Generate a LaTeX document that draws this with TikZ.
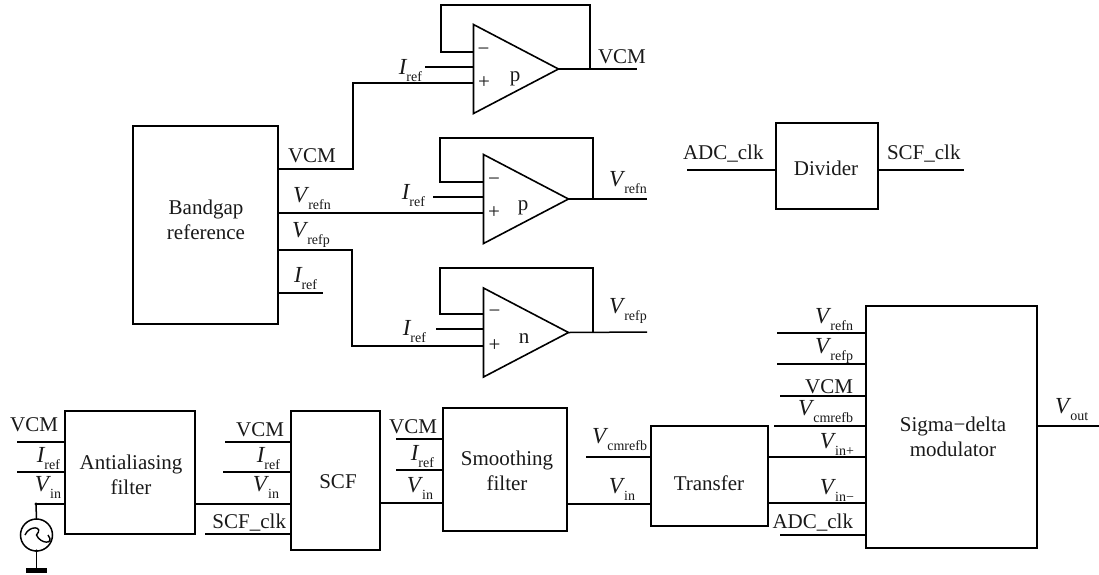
\documentclass[tikz,border=0pt]{standalone}
\usepackage{fontspec}
\setmainfont{Liberation Serif}
\usetikzlibrary{shapes.geometric}
\newcommand\lab[2]{{\fontsize{23}{25}\selectfont\textit{#1}}\kern-1pt\raisebox{-7.5pt}{\fontsize{14}{14}\selectfont #2}}
\tikzset{
  wire/.style={line width=1.5pt,line join=miter},
  blk/.style={draw,line width=1.6pt,rectangle,inner sep=0,outer sep=0},
  tl/.style={inner sep=0,outer sep=0,font=\fontsize{21}{25}\selectfont,text=black!90},
  bl/.style={tl,anchor=base west},
  br/.style={tl,anchor=base east},
  bc/.style={tl,anchor=base},
  opamp/.style={draw,line width=1.6pt,isosceles triangle,isosceles triangle stretches,shape border rotate=0,
     minimum width=89pt,minimum height=85pt,inner sep=0,outer sep=0,anchor=apex},
}
\begin{document}
\begin{tikzpicture}[x=1pt,y=-1pt]
\useasboundingbox (0,0) rectangle (1099,574);
% blocks
\node[blk,minimum width=145pt,minimum height=198pt] (bg) at (205.5,225) {};
\node[blk,minimum width=102pt,minimum height=86pt] (div) at (827,166) {};
\node[blk,minimum width=130pt,minimum height=123pt] (aa) at (130,472.5) {};
\node[blk,minimum width=89pt,minimum height=139pt] (scf) at (335.5,480.5) {};
\node[blk,minimum width=124pt,minimum height=123pt] (sm) at (505,469.5) {};
\node[blk,minimum width=117pt,minimum height=100pt] (tr) at (709.5,476) {};
\node[blk,minimum width=171pt,minimum height=242pt] (sd) at (951.5,427) {};
% op amps
\node[opamp] (a1) at (558.5,69) {};
\node[opamp] (a2) at (568.5,199) {};
\node[opamp] (a3) at (568.5,332.5) {};
% free ends
\coordinate (a1i) at (425,67);
\coordinate (a1o) at (637,69);
\coordinate (a2i) at (433,197);
\coordinate (a2o) at (647,199);
\coordinate (a3i) at (436,329);
\coordinate (a3o) at (647,332);
\coordinate (bgi) at (323,293);
\coordinate (divl) at (687,170);
\coordinate (divr) at (964,170);
\coordinate (aa1) at (17,442);
\coordinate (aa2) at (17,472);
\coordinate (aa3) at (36,504);
\coordinate (sc1) at (225,442);
\coordinate (sc2) at (223,472);
\coordinate (sc4) at (205,534);
\coordinate (sm1) at (396,439);
\coordinate (sm2) at (396,470);
\coordinate (tr1) at (586,457);
\coordinate (sd1) at (777,333);
\coordinate (sd2) at (777,364);
\coordinate (sd3) at (780,396);
\coordinate (sd4) at (774,426);
\coordinate (sd7) at (780,535);
\coordinate (sdo) at (1099,426);
% bandgap outputs
\draw[wire] (bg.east |- 0,169) -| (353,83) -- (a1.lower side |- 0,83);
\draw[wire] (bg.east |- 0,213) -- (a2.lower side |- 0,213);
\draw[wire] (bg.east |- 0,250) -| (352,346) -- (a3.lower side |- 0,346);
\draw[wire] (bg.east |- bgi) -- (bgi);
% op amp wiring
\draw[wire] (a1i) -- (a1.lower side |- a1i);
\draw[wire] (a1.apex) -- (a1o);
\draw[wire] (a1.lower side |- 0,52) -| (441,5) -| (590,69);
\draw[wire] (a2i) -- (a2.lower side |- a2i);
\draw[wire] (a2.apex) -- (a2o);
\draw[wire] (a2.lower side |- 0,182) -| (440,138) -| (593,199);
\draw[wire] (a3i) -- (a3.lower side |- a3i);
\draw[wire] (a3.apex) -- (a3o);
\draw[wire] (a3.lower side |- 0,314) -| (440,268) -| (593,332);
% divider
\draw[wire] (divl) -- (divl -| div.west);
\draw[wire] (div.east |- divr) -- (divr);
% bottom chain
\draw[wire] (aa1) -- (aa1 -| aa.west);
\draw[wire] (aa2) -- (aa2 -| aa.west);
\draw[wire] (aa3) -- (aa3 -| aa.west);
\draw[wire] (aa.east |- 0,504) -- (scf.west |- 0,504);
\draw[wire] (sc1) -- (sc1 -| scf.west);
\draw[wire] (sc2) -- (sc2 -| scf.west);
\draw[wire] (sc4) -- (sc4 -| scf.west);
\draw[wire] (scf.east |- 0,503) -- (sm.west |- 0,503);
\draw[wire] (sm1) -- (sm1 -| sm.west);
\draw[wire] (sm2) -- (sm2 -| sm.west);
\draw[wire] (sm.east |- 0,504) -- (tr.west |- 0,504);
\draw[wire] (tr1) -- (tr1 -| tr.west);
\draw[wire] (tr.east |- 0,457) -- (sd.west |- 0,457);
\draw[wire] (tr.east |- 0,503) -- (sd.west |- 0,503);
\draw[wire] (sd1) -- (sd1 -| sd.west);
\draw[wire] (sd2) -- (sd2 -| sd.west);
\draw[wire] (sd3) -- (sd3 -| sd.west);
\draw[wire] (sd4) -- (sd4 -| sd.west);
\draw[wire] (sd7) -- (sd7 -| sd.west);
\draw[wire] (sd.east |- sdo) -- (sdo);
% source
\node[draw,circle,line width=1.5pt,minimum size=32pt,inner sep=0,outer sep=0] (src) at (36.5,535) {};
\node[fill=black,rectangle,minimum width=21pt,minimum height=5pt,inner sep=0,outer sep=0] (gnd) at (36.5,570.5) {};
\draw[wire] (aa3) -- (src.north);
\draw[wire] (src.south) -- (gnd.north);
\fill (aa3) circle (1.6pt);
\fill (src.south) circle (1.6pt);
\draw[line width=1.4pt] ([xshift=-11.5pt]src.center) .. controls +(4,-10) and +(8,-9) .. (src.center) .. controls +(3.5,9) and +(7.5,10) .. ([xshift=11.5pt]src.center);
% block texts
\node[tl,align=center] (tbg) at (206,220) {Bandgap\\reference};
\node[bc] (tdiv) at (826,175) {Divider};
\node[tl,align=center] (taa) at (131,475) {Antialiasing\\filter};
\node[bc] (tscf) at (338,488) {SCF};
\node[tl,align=center] (tsm) at (507,470.5) {Smoothing\\filter};
\node[bc] (ttr) at (709,490) {Transfer};
\node[tl,align=center] (tsd) at (953,437) {Sigma−delta\\modulator};
% op amp texts
\node[bc] (p1) at (515,81) {p};
\node[bc] (p2) at (523,210) {p};
\node[bc] (n3) at (524,343) {n};
\node[tl] (m1) at (483.5,52) {−};
\node[tl] (q1) at (484,83) {+};
\node[tl] (m2) at (494,182) {−};
\node[tl] (q2) at (494,213) {+};
\node[tl] (m3) at (494.5,314) {−};
\node[tl] (q3) at (494.5,346) {+};
% top labels
\node[bl] (l1) at (598,63) {VCM};
\node[br] (l2) at (422,74) {\lab{I}{ref}};
\node[bl] (l3) at (288,162) {VCM};
\node[bl] (l4) at (293,202) {\lab{V}{refn}};
\node[bl] (l5) at (292,237) {\lab{V}{refp}};
\node[bl] (l6) at (294,282) {\lab{I}{ref}};
\node[br] (l7) at (425,199) {\lab{I}{ref}};
\node[br] (l8) at (426,335) {\lab{I}{ref}};
\node[bl] (l9) at (609,186) {\lab{V}{refn}};
\node[bl] (l10) at (609,313) {\lab{V}{refp}};
\node[bl] (l11) at (683,159) {ADC\_clk};
\node[bl] (l12) at (887,159) {SCF\_clk};
% bottom labels
\node[br] (b1) at (58,431) {VCM};
\node[br] (b2) at (60,462) {\lab{I}{ref}};
\node[br] (b3) at (61,491) {\lab{V}{in}};
\node[br] (b4) at (284,436) {VCM};
\node[br] (b5) at (280,462) {\lab{I}{ref}};
\node[br] (b6) at (279,491) {\lab{V}{in}};
\node[br] (b7) at (286,528) {SCF\_clk};
\node[br] (b8) at (437,433) {VCM};
\node[br] (b9) at (434,460) {\lab{I}{ref}};
\node[br] (b10) at (433,492) {\lab{V}{in}};
\node[br] (b11) at (647,443) {\lab{V}{cmrefb}};
\node[br] (b12) at (635,493) {\lab{V}{in}};
\node[br] (b13) at (853,323) {\lab{V}{refn}};
\node[br] (b14) at (853,353) {\lab{V}{refp}};
\node[br] (b15) at (853,393) {VCM};
\node[br] (b16) at (853,415) {\lab{V}{cmrefb}};
\node[br] (b17) at (854,448) {\lab{V}{in+}};
\node[br] (b18) at (854,494) {\lab{V}{in−}};
\node[br] (b19) at (853,528) {ADC\_clk};
\node[bl] (b20) at (1055,413) {\lab{V}{out}};
\end{tikzpicture}
\end{document}
